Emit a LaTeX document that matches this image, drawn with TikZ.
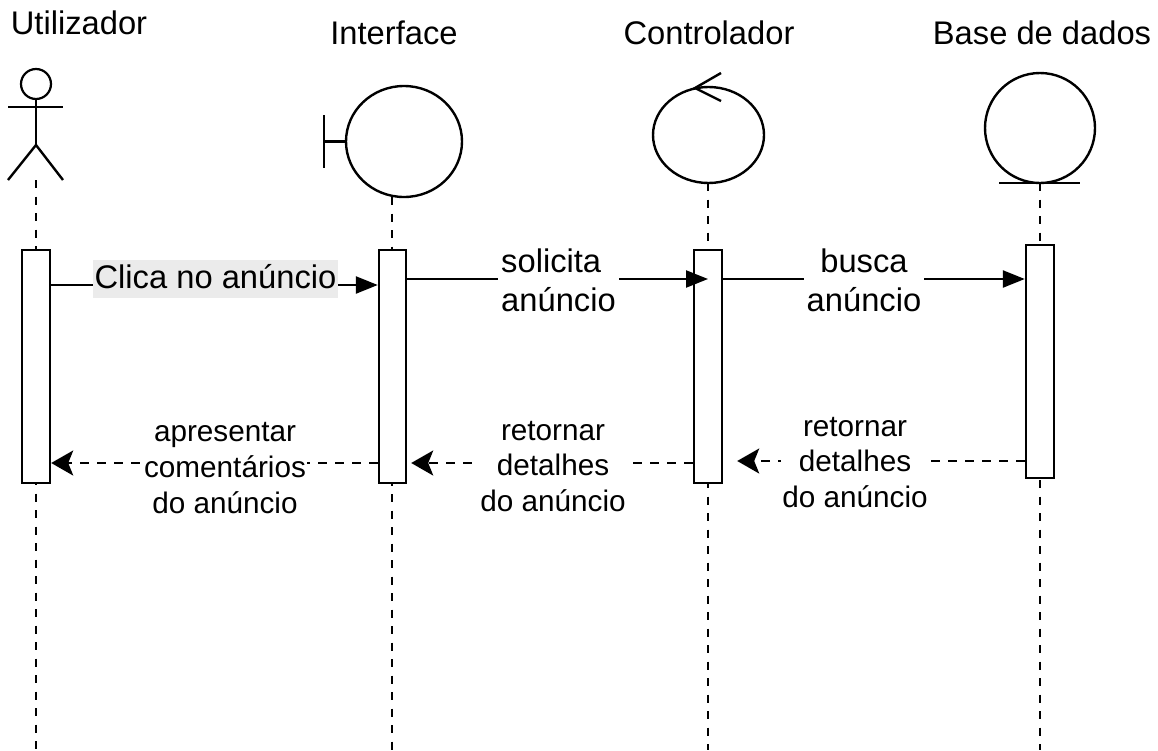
\documentclass[tikz,border=0pt]{standalone}
\usepackage{fontspec}
\setmainfont{Liberation Sans}
\usetikzlibrary{arrows.meta,shapes.geometric}
\definecolor{lblgray}{HTML}{EBEBEB}
\begin{document}
\begin{tikzpicture}[x=1pt,y=-1pt, line width=2.4pt,
  lifeline/.style={dash pattern=on 8pt off 8.5pt, line width=2.2pt},
  act/.style={draw, fill=white, minimum width=28pt, inner sep=0pt},
  ttl/.style={font=\fontsize{32.7}{39.2}\selectfont, anchor=base, inner sep=0pt},
  msg/.style={-{Triangle[length=22pt,width=17pt]}},
  ret/.style={dash pattern=on 9pt off 8pt, -{Stealth[length=22pt,width=25pt,inset=5pt]}},
  toplbl/.style={fill=white, font=\fontsize{32.7}{39.2}\selectfont, align=center, inner xsep=3pt, inner ysep=2pt},
  lowlbl/.style={fill=white, font=\fontsize{29.7}{35.6}\selectfont, align=center, inner xsep=1pt, inner ysep=2pt}]
\useasboundingbox (0,0) rectangle (1158,750);

% titles
\node[ttl] (tu) at (79,34) {Utilizador};
\node[ttl] (ti) at (394,44) {Interface};
\node[ttl] (tc) at (709,44) {Controlador};
\node[ttl] (tb) at (1042,44) {Base de dados};

% actor
\node[draw, circle, minimum size=30pt, inner sep=0pt, line width=2.2pt] (head) at (36,84) {};
\coordinate (hip) at (36,145);
\coordinate (ua) at (36,180);
\draw (head.south) -- (hip);
\draw (8,107) -- (63,107);
\draw (8,180) -- (hip) -- (63,180);

% interface (boundary)
\node[draw, ellipse, minimum width=116pt, minimum height=111pt, inner sep=0pt] (ci) at (404,141.5) {};
\draw (324,115) -- (324,168);
\draw (324,141.5) -- (ci.west);
\coordinate (ia) at (392,197);

% controlador (control)
\node[draw, ellipse, minimum width=111pt, minimum height=96pt, inner sep=0pt] (cc) at (708.5,135) {};
\draw (721,73) -- (695,88) -- (721,101);
\coordinate (ca) at (708,183);

% base de dados (entity)
\node[draw, circle, minimum size=110pt, inner sep=0pt] (cb) at (1040,128) {};
\draw (999,183) -- (1080,183);
\coordinate (ba) at (1040,183);

% lifeline ends
\coordinate (uz) at (36,750);
\coordinate (iz) at (392,750);
\coordinate (cz) at (708,750);
\coordinate (bz) at (1040,750);
\draw[lifeline] (ua) -- (uz);
\draw[lifeline] (ia) -- (iz);
\draw[lifeline] (ca) -- (cz);
\draw[lifeline] (ba) -- (bz);

% activation boxes
\node[act, minimum height=233pt] (bu) at (36,366.5) {};
\node[act, minimum height=233pt, minimum width=27pt] (bi) at (392.5,366.5) {};
\node[act, minimum height=233pt] (bc) at (708,366.5) {};
\node[act, minimum height=233pt] (bb) at (1040,361.5) {};

% messages
\draw[msg] (bu.east |- 0,285) -- (bi.west |- 0,285);
\node[font=\fontsize{32.7}{39.2}\selectfont, fill=lblgray, inner xsep=1.5pt, inner ysep=0pt, text height=28pt, text depth=10pt, anchor=base] (l1) at (215.5,288) {Clica no anúncio};

\draw[msg] (bi.east |- 0,279) -- (bc.center |- 0,279);
\node[toplbl, align=left] (l2) at (558.5,280) {solicita\\anúncio};

\draw[msg] (bc.east |- 0,279) -- (bb.west |- 0,279);
\node[toplbl] (l3) at (864,280) {busca\\anúncio};

% returns
\draw[ret] (bb.west |- 0,461) -- ([xshift=14pt]bc.east |- 0,461);
\node[lowlbl] (l4) at (855,462.4) {retornar\\detalhes\\do anúncio};

\draw[ret] (bc.west |- 0,463) -- ([xshift=4pt]bi.east |- 0,463);
\node[lowlbl] (l5) at (553,466.4) {retornar\\detalhes\\do anúncio};

\draw[ret] (bi.west |- 0,463) -- (bu.east |- 0,463);
\node[lowlbl] (l6) at (225,468) {apresentar\\comentários\\do anúncio};
\end{tikzpicture}
\end{document}
